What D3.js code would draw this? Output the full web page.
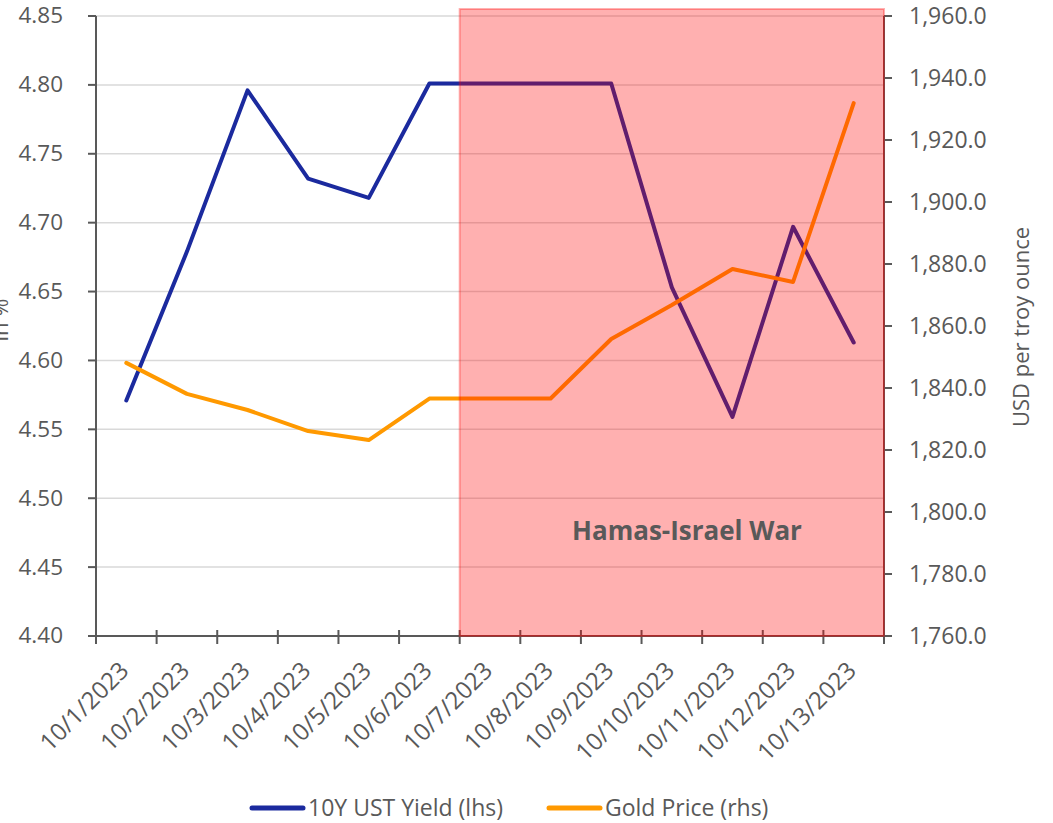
<!DOCTYPE html>
<html>
<head>
<meta charset="utf-8">
<script src="https://cdn.jsdelivr.net/npm/d3@7"></script>
<style>
  body { margin: 0; background: #fff; overflow: hidden; }
  text { font-family: "Open Sans", "Liberation Sans", sans-serif; fill: #595959; }
</style>
</head>
<body>
<div id="chart"></div>
<script>
// data
var dates = ["10/1/2023", "10/2/2023", "10/3/2023", "10/4/2023", "10/5/2023", "10/6/2023", "10/7/2023",
             "10/8/2023", "10/9/2023", "10/10/2023", "10/11/2023", "10/12/2023", "10/13/2023"];
var yieldValues = [4.571, 4.679, 4.796, 4.732, 4.718, 4.801, 4.801, 4.801, 4.801, 4.653, 4.559, 4.697, 4.613];
var goldValues = [1848.1, 1838.1, 1832.9, 1826.1, 1823.2, 1836.6, 1836.6, 1836.6, 1855.8, 1866.8, 1878.4, 1874.2, 1931.9];
var leftTicks = [4.40, 4.45, 4.50, 4.55, 4.60, 4.65, 4.70, 4.75, 4.80, 4.85];
var rightTicks = [1760, 1780, 1800, 1820, 1840, 1860, 1880, 1900, 1920, 1940, 1960];
var warStart = "10/7/2023";

var w = 1053, h = 823;
// plot area edges (note: "top" is taken by window.top)
var pLeft = 96, pRight = 884, pTop = 16, pBottom = 636;

var svg = d3.select("#chart").append("svg")
    .attr("width", w)
    .attr("height", h);

var xScale = d3.scaleBand().domain(dates).range([pLeft, pRight]);
var yLeft = d3.scaleLinear().domain([4.40, 4.85]).range([pBottom, pTop]);
var yRight = d3.scaleLinear().domain([1760, 1960]).range([pBottom, pTop]);

function cx(d) { return xScale(d) + xScale.bandwidth() / 2; }

// gridlines
svg.append("g")
    .selectAll("line")
    .data(leftTicks)
    .enter()
    .append("line")
    .attr("x1", pLeft).attr("x2", pRight)
    .attr("y1", function(d) { return yLeft(d); })
    .attr("y2", function(d) { return yLeft(d); })
    .attr("stroke", "#d9d9d9")
    .attr("stroke-width", 1.5);

// lines
var yieldLine = d3.line()
    .x(function(d, i) { return cx(dates[i]); })
    .y(function(d) { return yLeft(d); });
var goldLine = d3.line()
    .x(function(d, i) { return cx(dates[i]); })
    .y(function(d) { return yRight(d); });

svg.append("path")
    .datum(yieldValues)
    .attr("d", yieldLine)
    .attr("fill", "none")
    .attr("stroke", "#1b2a9e")
    .attr("stroke-width", 4)
    .attr("stroke-linecap", "round")
    .attr("stroke-linejoin", "round");

svg.append("path")
    .datum(goldValues)
    .attr("d", goldLine)
    .attr("fill", "none")
    .attr("stroke", "#ff9900")
    .attr("stroke-width", 4)
    .attr("stroke-linecap", "round")
    .attr("stroke-linejoin", "round");

// axes
var axisColor = "#595959";

var xAxis = svg.append("g").attr("transform", "translate(0," + pBottom + ")");
xAxis.append("line").attr("x1", pLeft).attr("x2", pRight).attr("stroke", axisColor).attr("stroke-width", 2);
var xTickPos = dates.map(function(d) { return xScale(d); }).concat([pRight]);
xAxis.selectAll(".tk")
    .data(xTickPos)
    .enter()
    .append("line")
    .attr("x1", function(d) { return d; })
    .attr("x2", function(d) { return d; })
    .attr("y1", -6).attr("y2", 8)
    .attr("stroke", axisColor).attr("stroke-width", 2);
xAxis.selectAll("text")
    .data(dates)
    .enter()
    .append("text")
    .attr("text-anchor", "end")
    .attr("transform", function(d) {
        return "translate(" + (cx(d) + 4) + ",36) rotate(-45)";
    })
    .style("font-size", "24px")
    .text(function(d) { return d; });

var yAxisL = svg.append("g");
yAxisL.append("line").attr("x1", pLeft).attr("x2", pLeft).attr("y1", pTop).attr("y2", pBottom + 8)
    .attr("stroke", axisColor).attr("stroke-width", 2);
yAxisL.selectAll(".tk")
    .data(leftTicks)
    .enter()
    .append("line")
    .attr("x1", pLeft - 8).attr("x2", pLeft)
    .attr("y1", function(d) { return yLeft(d); })
    .attr("y2", function(d) { return yLeft(d); })
    .attr("stroke", axisColor).attr("stroke-width", 2);
yAxisL.selectAll("text")
    .data(leftTicks)
    .enter()
    .append("text")
    .attr("x", 63)
    .attr("y", function(d) { return yLeft(d); })
    .attr("dy", "0.33em")
    .attr("text-anchor", "end")
    .style("font-size", "22.5px")
    .text(function(d) { return d.toFixed(2); });

var yAxisR = svg.append("g");
yAxisR.append("line").attr("x1", pRight).attr("x2", pRight).attr("y1", pTop).attr("y2", pBottom + 8)
    .attr("stroke", axisColor).attr("stroke-width", 2);
yAxisR.selectAll(".tk")
    .data(rightTicks)
    .enter()
    .append("line")
    .attr("x1", pRight).attr("x2", pRight + 8)
    .attr("y1", function(d) { return yRight(d); })
    .attr("y2", function(d) { return yRight(d); })
    .attr("stroke", axisColor).attr("stroke-width", 2);
var fmt = d3.format(",.1f");
yAxisR.selectAll("text")
    .data(rightTicks)
    .enter()
    .append("text")
    .attr("x", 909)
    .attr("y", function(d) { return yRight(d); })
    .attr("dy", "0.33em")
    .style("font-size", "23px")
    .text(function(d) { return fmt(d); });

// shaded war period, drawn over the lines
svg.append("rect")
    .attr("x", xScale(warStart))
    .attr("y", pTop - 7)
    .attr("width", pRight - xScale(warStart))
    .attr("height", pBottom - pTop + 7)
    .attr("fill", "rgba(255,0,0,0.31)")
    .attr("stroke", "rgba(255,0,0,0.3)")
    .attr("stroke-width", 2);

svg.append("text")
    .attr("x", 687)
    .attr("y", 540)
    .attr("text-anchor", "middle")
    .style("font-size", "26px")
    .style("font-weight", "bold")
    .text("Hamas-Israel War");

// axis titles
svg.append("text")
    .attr("transform", "translate(1029,327) rotate(-90)")
    .attr("text-anchor", "middle")
    .style("font-size", "22px")
    .text("USD per troy ounce");

svg.append("text")
    .attr("transform", "translate(8,320) rotate(-90)")
    .attr("text-anchor", "middle")
    .style("font-size", "22px")
    .text("in %");

// legend
var legend = [
    { label: "10Y UST Yield (lhs)", color: "#1b2a9e", x: 250 },
    { label: "Gold Price (rhs)", color: "#ff9900", x: 547 }
];
var lg = svg.append("g").selectAll("g").data(legend).enter().append("g")
    .attr("transform", function(d) { return "translate(" + d.x + ",808)"; });
lg.append("line")
    .attr("x1", 2).attr("x2", 53)
    .attr("stroke", function(d) { return d.color; })
    .attr("stroke-width", 5)
    .attr("stroke-linecap", "round");
lg.append("text")
    .attr("x", 58)
    .attr("dy", "0.35em")
    .style("font-size", "23px")
    .text(function(d) { return d.label; });
</script>
</body>
</html>
